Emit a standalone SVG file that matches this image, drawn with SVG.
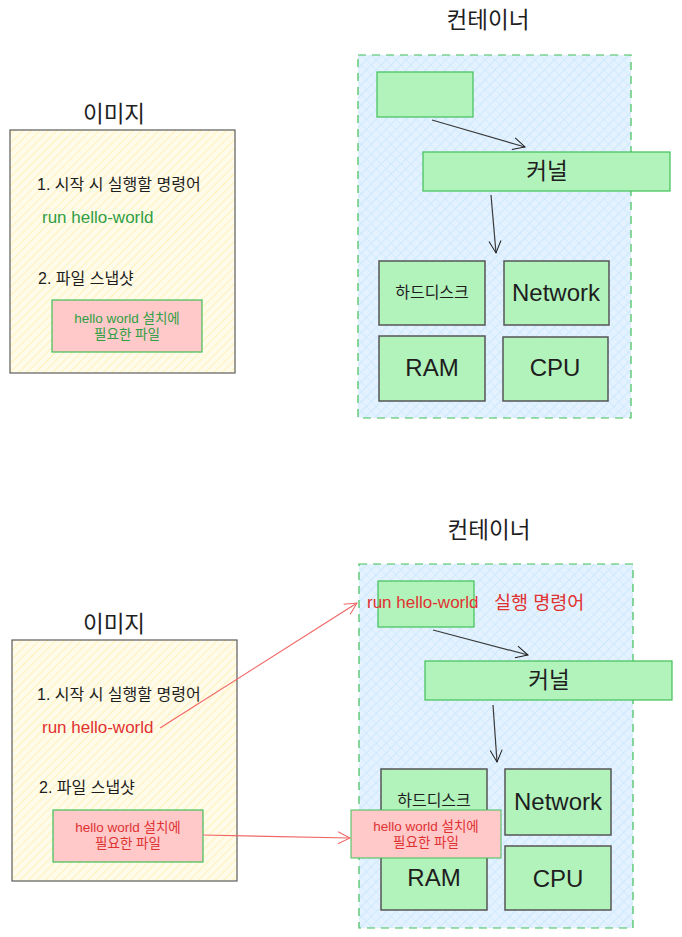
<svg xmlns="http://www.w3.org/2000/svg" width="682" height="937" viewBox="0 0 682 937">
<defs>
<pattern id="hatchY" width="6" height="6" patternUnits="userSpaceOnUse" patternTransform="rotate(45)">
<rect width="6" height="6" fill="#fffbea"/>
<line x1="0" y1="0" x2="0" y2="6" stroke="#ffec99" stroke-width="1.2"/>
</pattern>
<pattern id="hatchB" width="7" height="7" patternUnits="userSpaceOnUse" patternTransform="rotate(45)">
<rect width="7" height="7" fill="#e3f2fe"/>
<line x1="0" y1="0" x2="0" y2="7" stroke="#b9dffd" stroke-width="1"/>
<line x1="0" y1="0" x2="7" y2="0" stroke="#c8e6fd" stroke-width="1"/>
</pattern>
<marker id="arrD" markerWidth="14" markerHeight="14" refX="13" refY="7" orient="auto" markerUnits="userSpaceOnUse">
<path d="M1,1 L13,7 L1,13" fill="none" stroke="#1e1e1e" stroke-width="1"/>
</marker>
<marker id="arrR" markerWidth="14" markerHeight="14" refX="13" refY="7" orient="auto" markerUnits="userSpaceOnUse">
<path d="M1,1 L13,7 L1,13" fill="none" stroke="#f06565" stroke-width="1"/>
</marker>
</defs>
<style>
text{font-family:"Liberation Sans","Noto Sans CJK KR",sans-serif;fill:#1e1e1e}
.title{font-size:22.5px;text-anchor:middle}
.label{font-size:16px}
.run{font-size:17px}
.g{fill:#2f9e44}
.r{fill:#e03131}
.small{font-size:13.5px;text-anchor:middle}
.big{font-size:24px;text-anchor:middle}
.img{fill:url(#hatchY);stroke:#5c5c5c;stroke-width:1.2}
.cont{fill:url(#hatchB);stroke:#40c057;stroke-width:1.2;stroke-dasharray:8 6}
.gbox{fill:#b2f2bb;stroke:#40c057;stroke-width:1.2}
.dbox{fill:#b2f2bb;stroke:#555;stroke-width:1.5}
.pbox{fill:#ffc9c9;stroke:#40c057;stroke-width:1.2}
.pbox2{fill:#ffc9c9;stroke:#40c057;stroke-width:1}
.conn{fill:none;stroke:#3a3a3a;stroke-width:1.2}
.rconn{fill:none;stroke:#f06565;stroke-width:1.2}
</style>

<!-- ===== Top section ===== -->
<g id="title-image-1"><text class="title" x="114" y="122">이미지</text></g>
<g id="title-container-1"><text class="title" x="488" y="28">컨테이너</text></g>

<g id="image-1">
<rect class="img" x="10" y="130" width="225" height="243"/>
<text class="label" x="37" y="190">1. 시작 시 실행할 명령어</text>
<text class="run g" x="42" y="223">run hello-world</text>
<text class="label" x="38" y="284">2. 파일 스냅샷</text>
</g>
<g id="files-1">
<rect class="pbox" x="52" y="300" width="150" height="52"/>
<text class="small g" x="127" y="323">hello world 설치에</text>
<text class="small g" x="127" y="339">필요한 파일</text>
</g>

<g id="container-1"><rect class="cont" x="358" y="55" width="273" height="363"/></g>
<g id="cmd-1"><rect class="gbox" x="377" y="72" width="96" height="45"/></g>
<g id="kernel-1">
<rect class="gbox" x="423" y="152" width="247" height="39"/>
<text class="title" x="547" y="179">커널</text>
</g>
<g id="disk-1">
<rect class="dbox" x="379" y="261" width="106" height="64"/>
<text class="label" x="432" y="298" text-anchor="middle">하드디스크</text>
</g>
<g id="network-1">
<rect class="dbox" x="504" y="261" width="105" height="64"/>
<text class="big" x="556" y="301">Network</text>
</g>
<g id="ram-1">
<rect class="dbox" x="379" y="336" width="106" height="65"/>
<text class="big" x="432" y="376">RAM</text>
</g>
<g id="cpu-1">
<rect class="dbox" x="503" y="337" width="105" height="64"/>
<text class="big" x="555" y="376">CPU</text>
</g>

<!-- ===== Bottom section ===== -->
<g id="title-image-2"><text class="title" x="114" y="632">이미지</text></g>
<g id="title-container-2"><text class="title" x="489" y="538">컨테이너</text></g>

<g id="image-2">
<rect class="img" x="12" y="640" width="225" height="241"/>
<text class="label" x="37" y="700">1. 시작 시 실행할 명령어</text>
<text class="run r" x="42" y="733">run hello-world</text>
<text class="label" x="39" y="793">2. 파일 스냅샷</text>
</g>
<g id="files-2">
<rect class="pbox" x="53" y="810" width="150" height="52"/>
<text class="small r" x="128" y="832">hello world 설치에</text>
<text class="small r" x="128" y="848">필요한 파일</text>
</g>

<g id="container-2"><rect class="cont" x="359" y="564" width="274" height="364"/></g>
<g id="cmd-2">
<rect class="gbox" x="378" y="581" width="96" height="46"/>
<text class="run r" x="367" y="608">run hello-world</text>
<text class="r" x="494" y="609" style="font-size:18.5px">실행 명령어</text>
</g>
<g id="kernel-2">
<rect class="gbox" x="425" y="661" width="247" height="39"/>
<text class="title" x="549" y="688">커널</text>
</g>
<g id="disk-2">
<rect class="dbox" x="381" y="769" width="106" height="65"/>
<text class="label" x="434" y="806" text-anchor="middle">하드디스크</text>
</g>
<g id="network-2">
<rect class="dbox" x="505" y="769" width="106" height="66"/>
<text class="big" x="558" y="810">Network</text>
</g>
<g id="ram-2">
<rect class="dbox" x="381" y="845" width="106" height="65"/>
<text class="big" x="434" y="886">RAM</text>
</g>
<g id="cpu-2">
<rect class="dbox" x="505" y="846" width="106" height="64"/>
<text class="big" x="558" y="887">CPU</text>
</g>
<g id="files-in-container">
<rect class="pbox2" x="351" y="810" width="150" height="48"/>
<text class="small r" x="426" y="831">hello world 설치에</text>
<text class="small r" x="426" y="847">필요한 파일</text>
</g>

<!-- ===== Connectors ===== -->
<g id="connectors">
<path class="conn" d="M432,120 L525,147" marker-end="url(#arrD)"/>
<path class="conn" d="M491,195 L496,253" marker-end="url(#arrD)"/>
<path class="conn" d="M433,630 L528,655" marker-end="url(#arrD)"/>
<path class="conn" d="M493,705 L497,762" marker-end="url(#arrD)"/>
<path class="rconn" d="M160,728 L357,603" marker-end="url(#arrR)"/>
<path class="rconn" d="M203,835 L350,838" marker-end="url(#arrR)"/>
</g>
</svg>
